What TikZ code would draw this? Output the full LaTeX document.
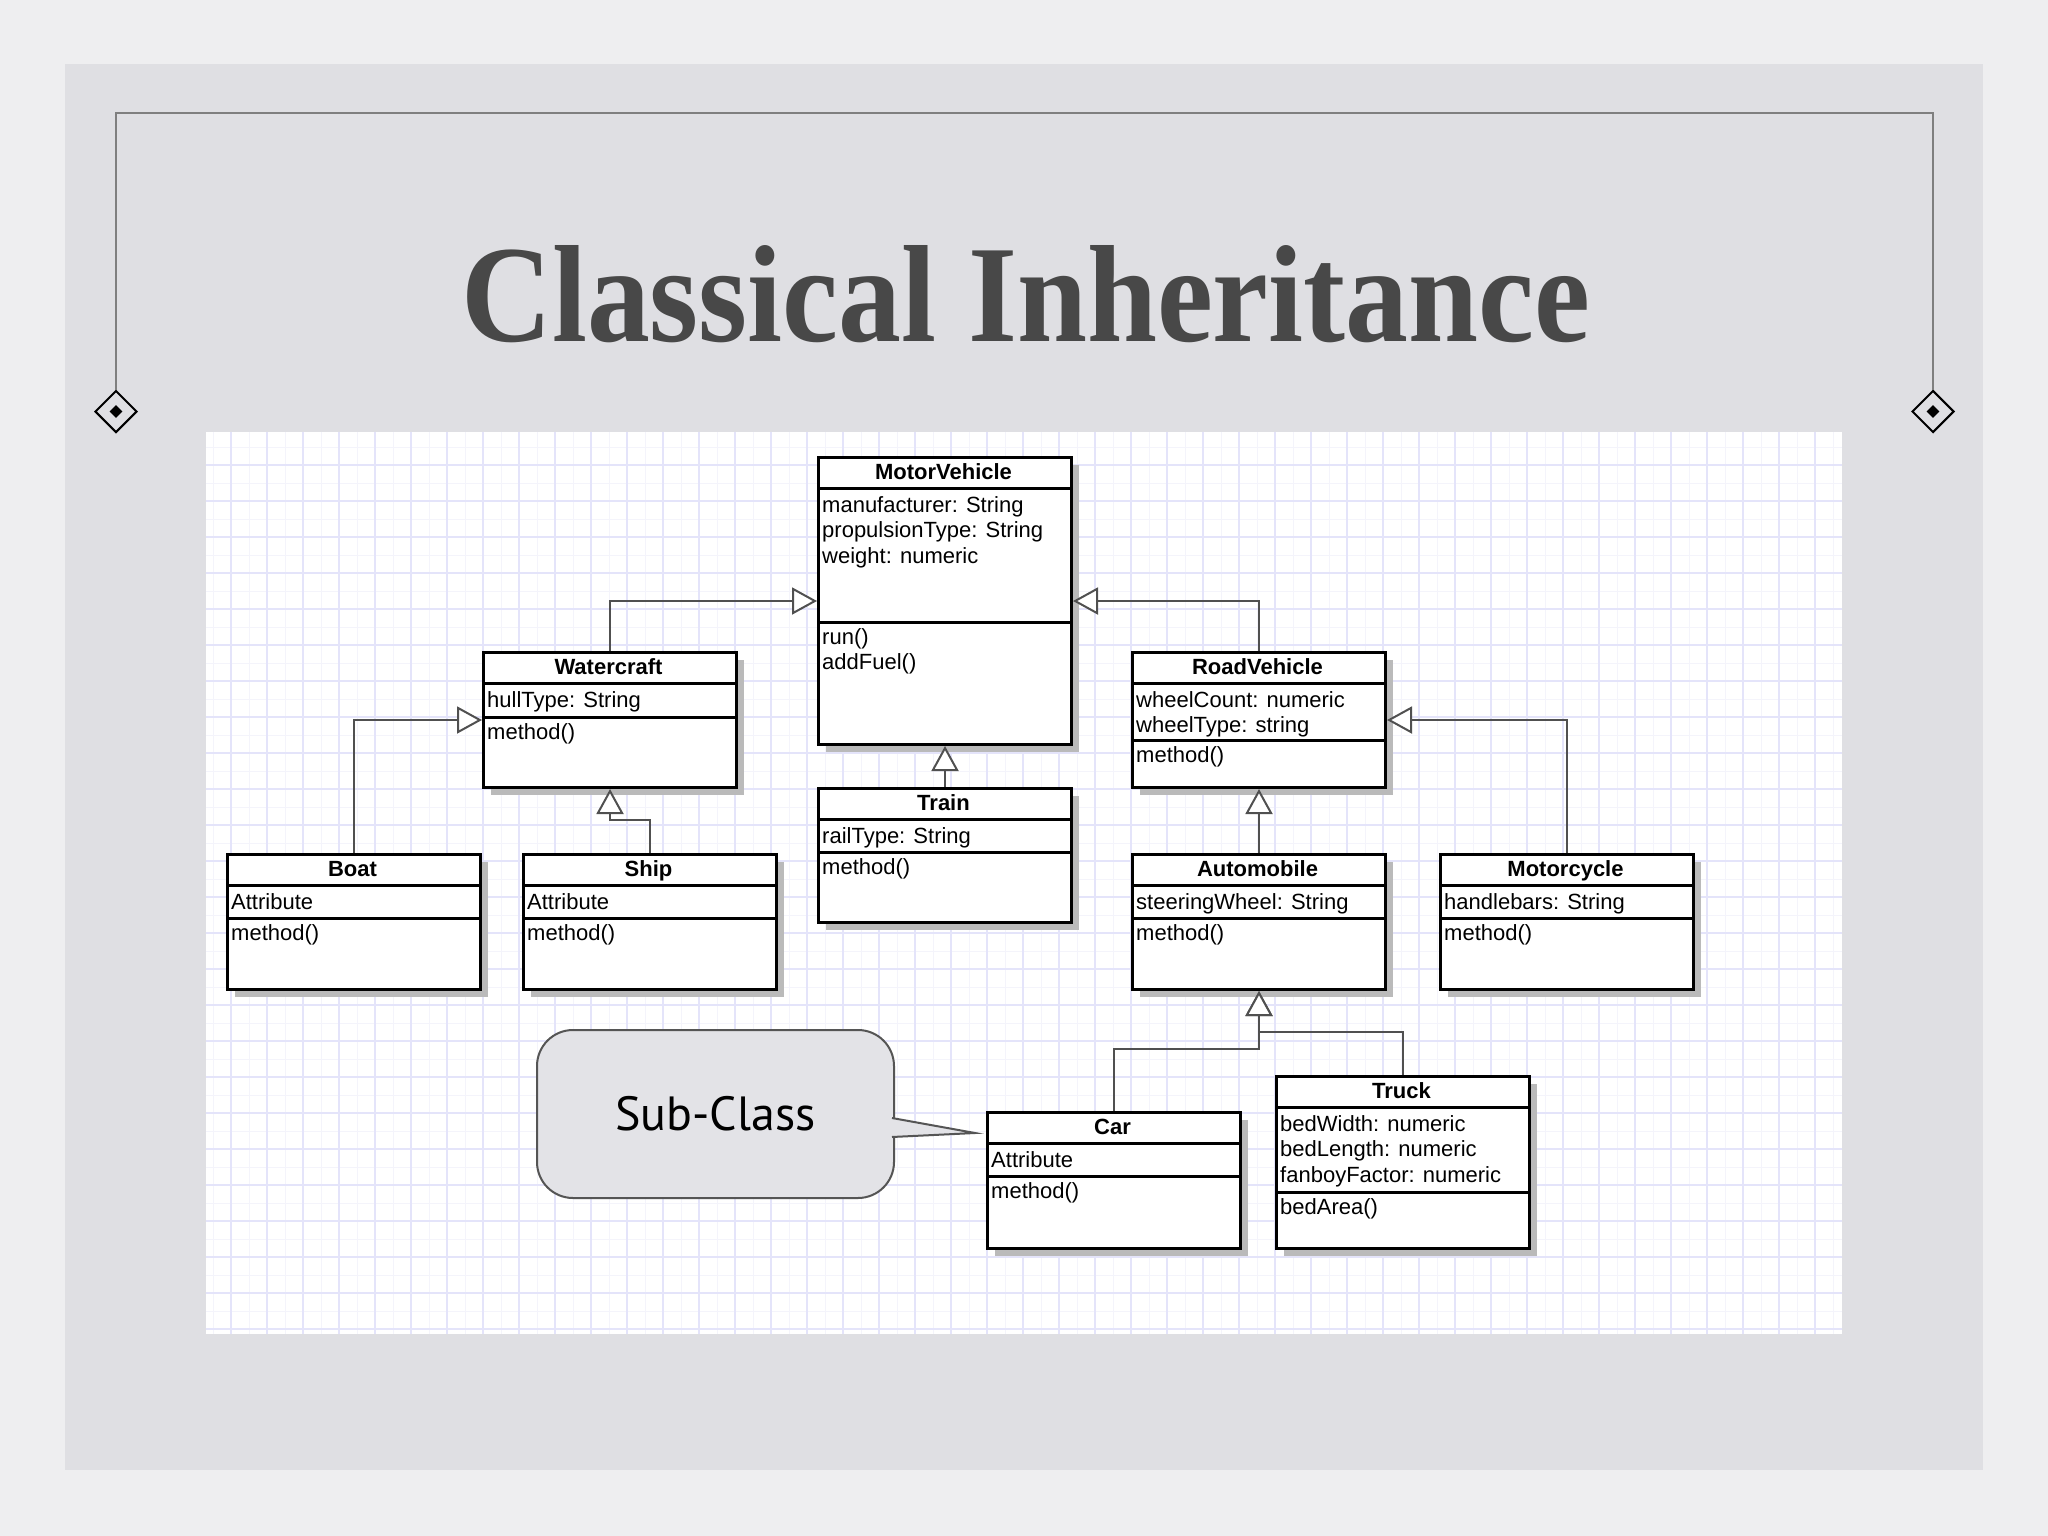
\documentclass[tikz,border=0pt]{standalone}
\usepackage{fontspec}
\newfontfamily\umlfont{Liberation Sans}
\newfontfamily\notefont{PT Sans}
\newfontfamily\headfont{Liberation Serif}
\usetikzlibrary{arrows.meta,shapes.geometric,shadows}

\definecolor{pagebg}{HTML}{EEEEF0}
\definecolor{slidebg}{HTML}{DFDFE3}
\definecolor{gridmaj}{HTML}{E4E4FA}
\definecolor{gridmin}{HTML}{F4F4FB}
\definecolor{titlegray}{HTML}{484848}
\definecolor{framegray}{HTML}{7F7F7F}
\definecolor{linkgray}{HTML}{505050}
\definecolor{notefill}{HTML}{E3E3E7}
\definecolor{noteline}{HTML}{555555}

\tikzset{
  classbox/.style={draw=black, line width=3pt, fill=white, anchor=north west,
    inner sep=0pt, minimum width=253pt,
    drop shadow={shadow xshift=7pt, shadow yshift=-7pt, fill=black!27, opacity=1}},
  classline/.style={black, line width=3pt},
  classtitle/.style={anchor=base, inner sep=0pt,
    font=\umlfont\bfseries\fontsize{22}{26}\selectfont},
  classtext/.style={anchor=base west, inner sep=0pt,
    font=\umlfont\fontsize{22}{25.7}\selectfont},
  inherit/.style={linkgray, line width=2pt,
    -{Triangle[length=25pt, width=27pt, fill=white]}},
  gridminor/.style={gridmin, line width=1pt},
  gridmajor/.style={gridmaj, line width=1.6pt},
  frameline/.style={framegray, line width=2pt},
  ornament/.style={diamond, draw=black, line width=2pt, inner sep=0pt,
    minimum width=42pt, minimum height=42pt},
  ornamentdot/.style={diamond, fill=black, inner sep=0pt,
    minimum width=13pt, minimum height=13pt},
  notebox/.style={draw=noteline, line width=2pt, fill=notefill,
    rounded corners=36pt, minimum width=357pt, minimum height=168pt,
    font=\notefont\fontsize{48}{58}\selectfont},
}

% #1 name, #2 x, #3 y, #4 height, #5 attribute height, #6 attributes, #7 methods
\newcommand{\umlclass}[7]{%
  \node[classbox, minimum height=#4] (#1) at (#2,#3) {};
  \draw[classline] (#2,#3+32) -- ++(253,0);
  \draw[classline] (#2,#3+32+#5) -- ++(253,0);
  \node[classtitle] (#1-title) at (#2+126.5,#3+23.5) {#1};
  \node[classtext] (#1-attr) at (#2+5,#3+56) {\begin{tabular}[t]{@{}l@{}}#6\end{tabular}};
  \node[classtext] (#1-ops) at (#2+5,#3+54+#5) {\begin{tabular}[t]{@{}l@{}}#7\end{tabular}};
}

\begin{document}
\begin{tikzpicture}[x=1pt, y=-1pt]
  \useasboundingbox (0,0) rectangle (2048,1536);
  \fill[pagebg] (0,0) rectangle (2048,1536);
  \fill[slidebg] (65,64) rectangle (1983,1470);

  % grid paper
  \fill[white] (206,432) rectangle (1842,1334);
  \foreach \gx in {213,249,...,1841} \draw[gridminor] (\gx,432) -- (\gx,1334);
  \foreach \gy in {447,483,...,1333} \draw[gridminor] (206,\gy) -- (1842,\gy);
  \foreach \gx in {231,267,...,1841} \draw[gridmajor] (\gx,432) -- (\gx,1334);
  \foreach \gy in {465,501,...,1333} \draw[gridmajor] (206,\gy) -- (1842,\gy);

  % frame and title
  \node[ornament] (dl) at (116,411.5) {};
  \node[ornament] (dr) at (1933,411.5) {};
  \node[ornamentdot] (dldot) at (dl.center) {};
  \node[ornamentdot] (drdot) at (dr.center) {};
  \coordinate (frametop) at (0,113);
  \draw[frameline] (dl.north) -- (dl.north |- frametop) -- (dr.north |- frametop) -- (dr.north);
  \node[anchor=base west, inner sep=0pt, text=titlegray] (title) at (461,341)
    {\resizebox{1128pt}{96pt}{\headfont\bfseries Classical Inheritance}};

  % classes
  \umlclass{MotorVehicle}{817}{456}{287}{134}{manufacturer: String\\propulsionType: String\\weight: numeric}{run()\\addFuel()}
  \umlclass{Train}{817}{787}{134}{33}{railType: String}{method()}
  \umlclass{Watercraft}{482}{651}{135}{34}{hullType: String}{method()}
  \umlclass{Boat}{226}{853}{135}{33}{Attribute}{method()}
  \umlclass{Ship}{522}{853}{135}{33}{Attribute}{method()}
  \umlclass{RoadVehicle}{1131}{651}{135}{57}{wheelCount: numeric\\wheelType: string}{method()}
  \umlclass{Automobile}{1131}{853}{135}{33}{steeringWheel: String}{method()}
  \umlclass{Motorcycle}{1439}{853}{135}{33}{handlebars: String}{method()}
  \umlclass{Car}{986}{1111}{136}{33}{Attribute}{method()}
  \umlclass{Truck}{1275}{1075}{172}{85}{bedWidth: numeric\\bedLength: numeric\\fanboyFactor: numeric}{bedArea()}

  % inheritance
  \draw[inherit] (Watercraft.north) |- (MotorVehicle.west);
  \draw[inherit] (RoadVehicle.north) |- (MotorVehicle.east);
  \draw[inherit] (Train.north) -- (MotorVehicle.south);
  \draw[inherit] (Boat.north) |- (Watercraft.west);
  \draw[inherit] (Ship.north) -- ++(0,-33) -| (Watercraft.south);
  \draw[inherit] (Automobile.north) -- (RoadVehicle.south);
  \draw[inherit] (Motorcycle.north) |- (RoadVehicle.east);
  \draw[inherit] (Car.north) -- ++(0,-62) -| (Automobile.south);
  \draw[inherit] (Truck.north) -- ++(0,-43) -| (Automobile.south);

  % callout
  \node[notebox] (note) at (715.5,1114) {Sub-Class};
  \coordinate (notetip) at (975,1133);
  \coordinate (ptop) at (892,1118);
  \coordinate (pbot) at (892,1137);
  \fill[notefill] (ptop) -- (notetip) -- (pbot) -- cycle;
  \draw[noteline, line width=2pt] (ptop) -- (notetip) -- (pbot);
\end{tikzpicture}
\end{document}
